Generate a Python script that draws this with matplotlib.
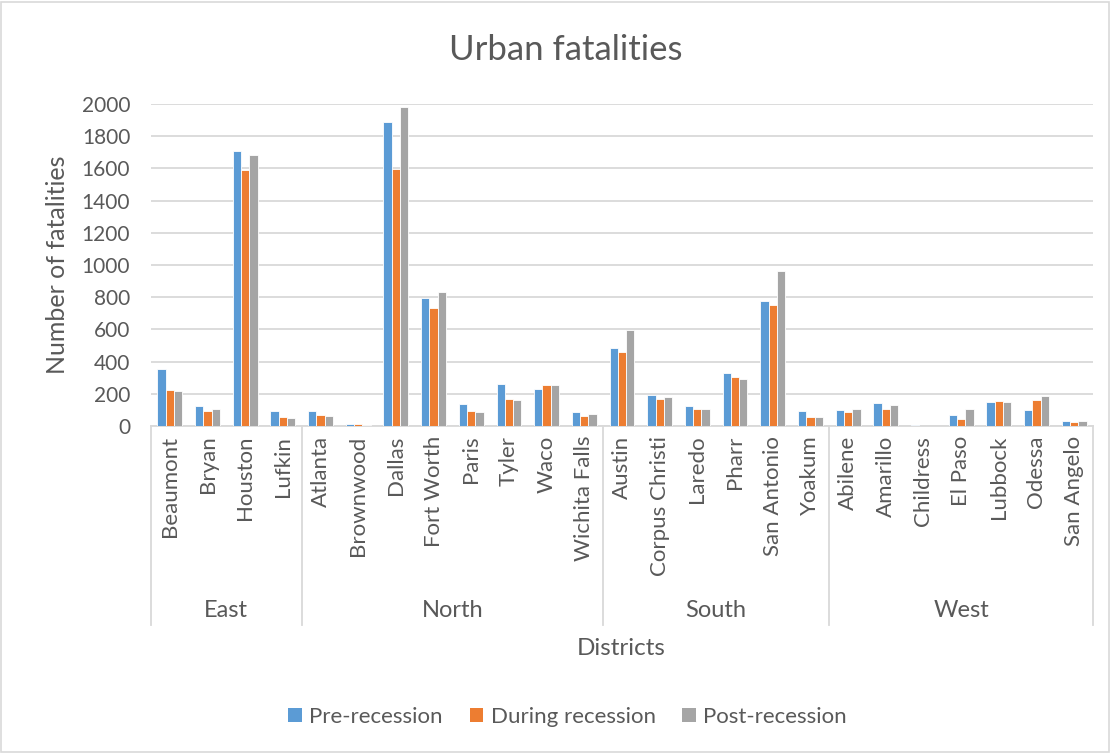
import numpy as np
import matplotlib.pyplot as plt
from matplotlib.patches import Patch

plt.rcParams['font.family'] = ['Lato', 'DejaVu Sans']

districts = ["Beaumont", "Bryan", "Houston", "Lufkin",
             "Atlanta", "Brownwood", "Dallas", "Fort Worth", "Paris", "Tyler", "Waco", "Wichita Falls",
             "Austin", "Corpus Christi", "Laredo", "Pharr", "San Antonio", "Yoakum",
             "Abilene", "Amarillo", "Childress", "El Paso", "Lubbock", "Odessa", "San Angelo"]
regions = ["East", "North", "South", "West"]
region_sizes = [4, 8, 6, 7]

pre = [352, 124, 1710, 91,
       93, 15, 1886, 796, 139, 263, 232, 85,
       487, 191, 124, 332, 777, 91,
       98, 144, 8, 67, 148, 102, 29]
during = [224, 95, 1592, 54,
          70, 10, 1596, 730, 93, 166, 253, 60,
          458, 170, 104, 303, 754, 56,
          88, 108, 2, 46, 158, 160, 25]
post = [216, 104, 1683, 48,
        60, 4, 1979, 831, 85, 160, 257, 77,
        597, 182, 108, 292, 962, 54,
        106, 133, 1, 108, 150, 185, 31]

series = [("Pre-recession", pre, "#5B9BD5"),
          ("During recession", during, "#ED7D31"),
          ("Post-recession", post, "#A5A5A5")]

txt = "#595959"
line_c = "#D9D9D9"

fig = plt.figure(figsize=(11.11, 7.53), dpi=100)
ax = fig.add_axes([0.1359, 0.4343, 0.8479, 0.4276])

x = np.arange(len(districts))
w = 0.22
for i, (name, vals, col) in enumerate(series):
    ax.bar(x + (i - 1) * w, vals, w, color=col, edgecolor="white", linewidth=0.6, zorder=3)

ax.set_xlim(-0.5, len(districts) - 0.5)
ax.set_ylim(0, 2000)
ax.set_yticks(np.arange(0, 2001, 200))
ax.yaxis.grid(True, color=line_c, linewidth=1.3, zorder=0)
for s in ["left", "right", "top"]:
    ax.spines[s].set_visible(False)
ax.spines["bottom"].set_color(line_c)
ax.spines["bottom"].set_linewidth(1.3)
ax.tick_params(axis="y", length=0, labelsize=15, labelcolor=txt, pad=15)
ax.tick_params(axis="x", length=0, labelsize=16, labelcolor=txt, pad=7)
ax.set_xticks(x)
ax.set_xticklabels(districts, rotation=90)

# group separators and region names under the district labels
trans = ax.get_xaxis_transform()
bounds = np.concatenate([[0], np.cumsum(region_sizes)]) - 0.5
for b in bounds:
    ax.plot([b, b], [0, -0.618], color=line_c, linewidth=1.3, transform=trans, clip_on=False)
for r, lo, hi in zip(regions, bounds[:-1], bounds[1:]):
    ax.text((lo + hi) / 2, -0.572, r, transform=trans, ha="center", va="center",
            fontsize=17, color=txt)

ax.set_ylabel("Number of fatalities", fontsize=18, color=txt, labelpad=9)
fig.text(0.559, 0.139, "Districts", ha="center", va="center", fontsize=17.5, color=txt)
fig.text(0.509, 0.934, "Urban fatalities", ha="center", va="center", fontsize=25, color=txt)

handles = [Patch(facecolor=c, label=n) for n, _, c in series]
fig.legend(handles=handles, loc="center", bbox_to_anchor=(0.511, 0.048), ncol=3,
           frameon=False, fontsize=16, labelcolor=txt, handlelength=0.6, handleheight=0.6,
           columnspacing=1.2, handletextpad=0.35)

# chart border
fig.add_artist(plt.Rectangle((0.001, 0.001), 0.997, 0.997, transform=fig.transFigure,
                             fill=False, edgecolor=line_c, linewidth=1.2))

fig.savefig("out.png", dpi=100)
